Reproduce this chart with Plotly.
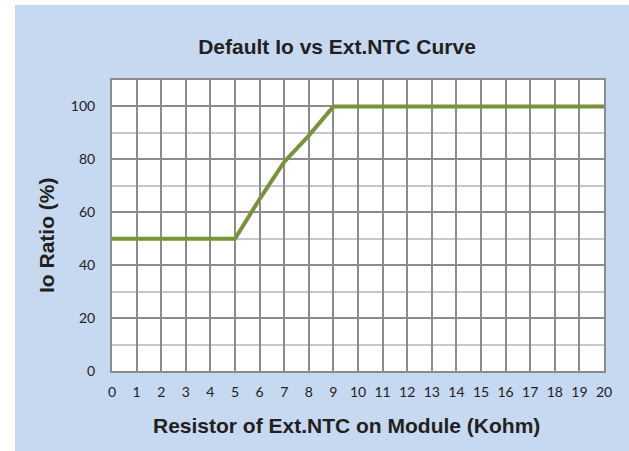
import plotly.graph_objects as go

resistance_kohm = [0, 1, 2, 3, 4, 5, 6, 7, 8, 9, 10, 11, 12, 13, 14, 15, 16, 17, 18, 19, 20]
io_ratio_pct = [50, 50, 50, 50, 50, 50, 65, 79, 89, 100, 100, 100, 100, 100, 100, 100, 100, 100, 100, 100, 100]
x_tick_vals = list(range(0, 21))
y_tick_vals = [0, 20, 40, 60, 80, 100]

fig = go.Figure()
fig.add_trace(go.Scatter(
    x=resistance_kohm, y=io_ratio_pct, mode="lines",
    line=dict(color="#77933C", width=4), showlegend=False,
))

W, H = 629, 451
L, R, T, B = 112, 25, 80, 80
pw, ph = W - L - R, H - T - B

def px_x(px):
    return (px - L) / pw

def px_y(py):
    return (H - B - py) / ph

fig.add_shape(type="rect", xref="paper", yref="paper",
              x0=px_x(15), x1=px_x(629), y0=px_y(452), y1=px_y(5),
              fillcolor="#C6D9F0", line=dict(width=0), layer="below")
fig.add_shape(type="rect", xref="paper", yref="paper",
              x0=0, x1=1, y0=0, y1=1,
              fillcolor="white", line=dict(width=0), layer="below")

tick_font = dict(family="Lato, 'Open Sans', sans-serif", size=14, color="#222222")
title_font = dict(family="'Liberation Sans', Arial, sans-serif", size=21, color="#231F20")

fig.add_annotation(text="<b>Resistor of Ext.NTC on Module (Kohm)</b>", xref="paper", yref="paper",
                   x=px_x(346), y=px_y(425), xanchor="center", yanchor="middle",
                   showarrow=False, font=title_font)
fig.add_annotation(text="<b>Io Ratio (%)</b>", xref="paper", yref="paper",
                   x=px_x(46), y=px_y(235), xanchor="center", yanchor="middle",
                   textangle=-90, showarrow=False, font=title_font)

fig.update_layout(
    width=W, height=H,
    margin=dict(l=L, r=R, t=T, b=B),
    paper_bgcolor="white", plot_bgcolor="white",
    title=dict(text="<b>Default Io vs Ext.NTC Curve</b>", x=px_x(337), xref="paper",
               xanchor="center", y=1 - 47 / H, yanchor="middle", font=title_font),
    xaxis=dict(
        range=[0, 20], tickvals=x_tick_vals, ticktext=[str(v) for v in x_tick_vals],
        showgrid=True, gridcolor="#8C8C8C", gridwidth=2,
        showline=True, linecolor="#8C8C8C", linewidth=2, mirror=True,
        zeroline=False, ticks="", ticklabelstandoff=7, tickfont=tick_font,
    ),
    yaxis=dict(
        range=[0, 110], tickvals=y_tick_vals, ticktext=[str(v) for v in y_tick_vals],
        showgrid=True, gridcolor="#8C8C8C", gridwidth=2,
        minor=dict(dtick=10, showgrid=True, gridcolor="#C8C8C8", gridwidth=2),
        showline=True, linecolor="#8C8C8C", linewidth=2, mirror=True,
        zeroline=False, ticks="", ticklabelstandoff=12, tickfont=tick_font,
    ),
)

fig.write_html("out.html", config={"displayModeBar": False},
               post_script="document.body.style.margin='0';")
